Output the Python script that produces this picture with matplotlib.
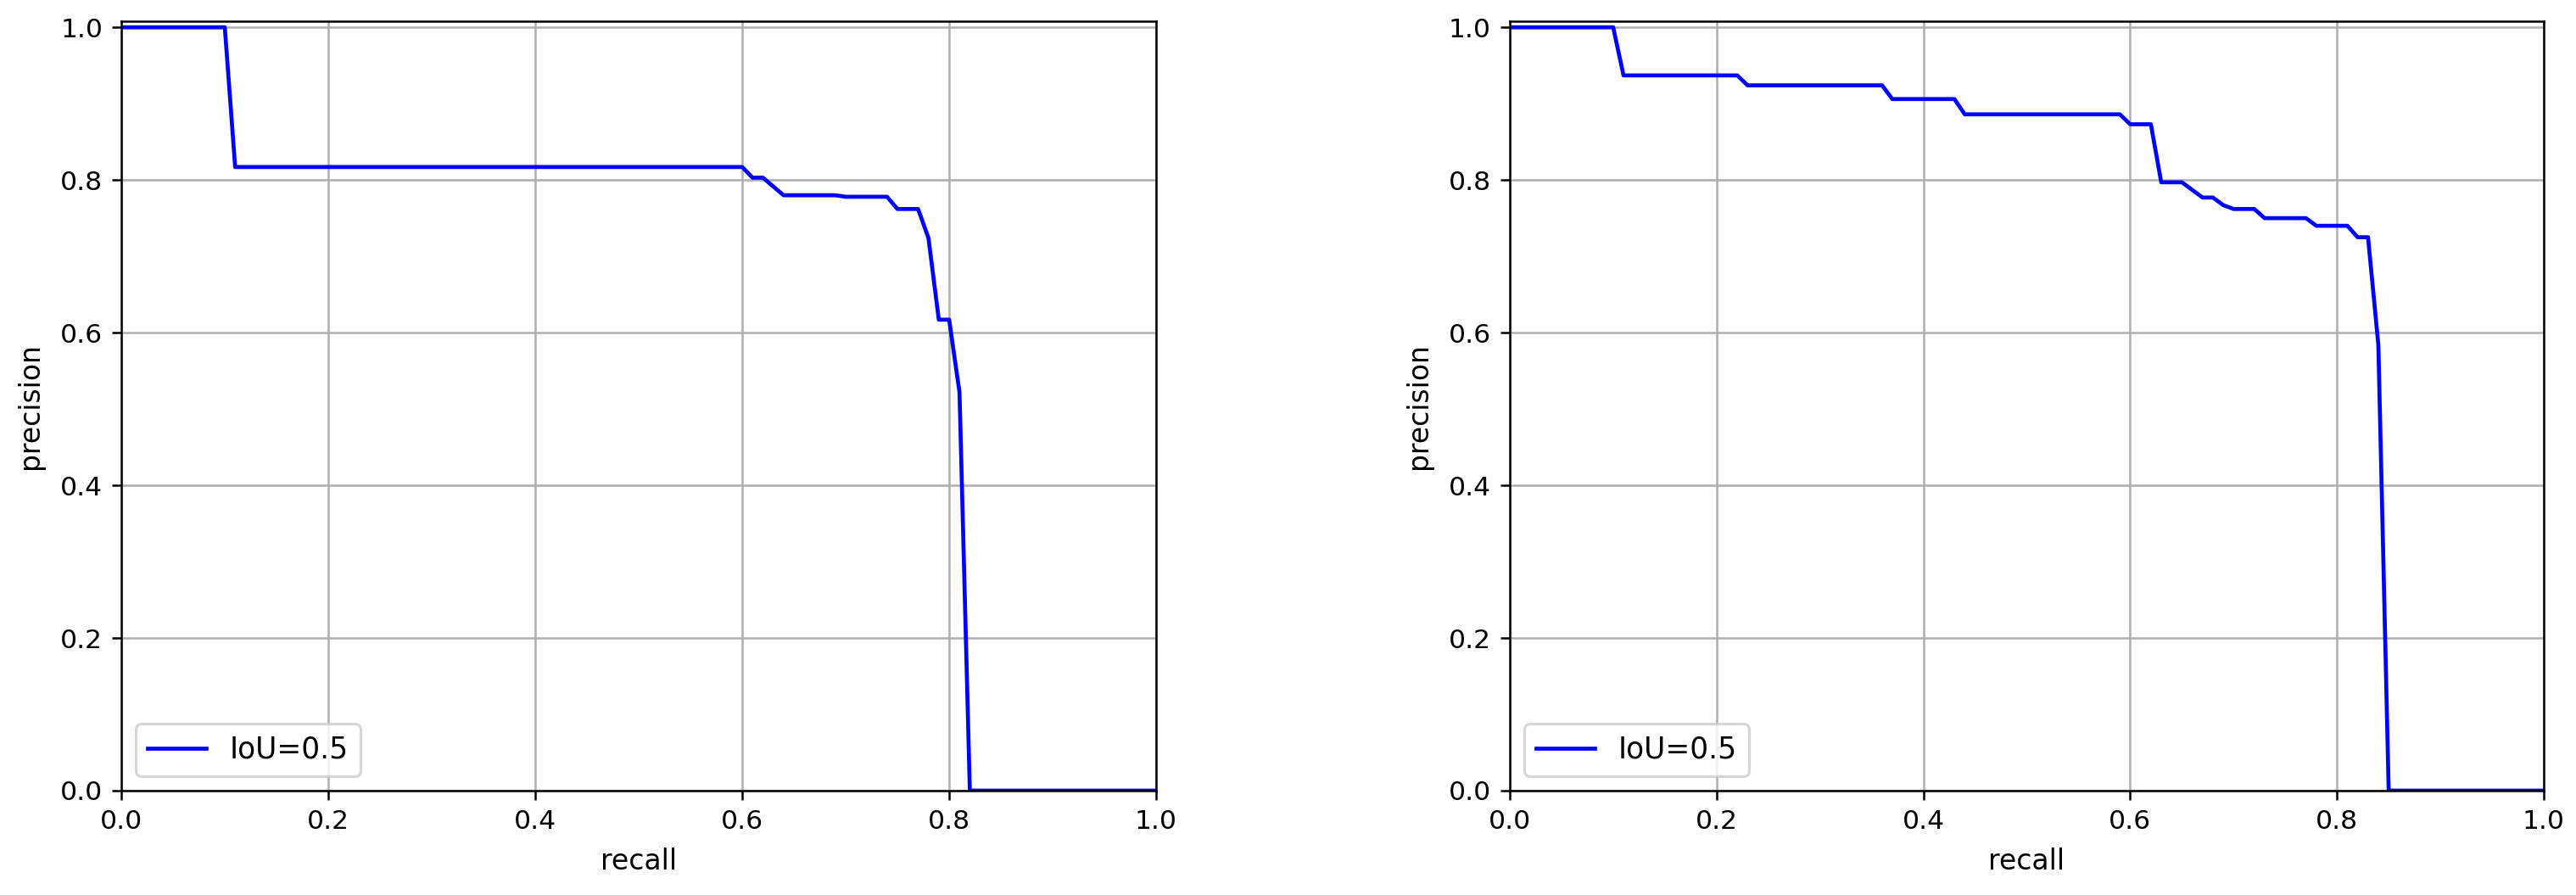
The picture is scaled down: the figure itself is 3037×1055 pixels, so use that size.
import matplotlib
matplotlib.use('Agg')
import matplotlib.pyplot as plt

# precision / recall breakpoints
recall_left = [0.00, 0.10, 0.11, 0.60, 0.61, 0.62, 0.64, 0.69, 0.70, 0.74,
               0.75, 0.77, 0.78, 0.79, 0.80, 0.81, 0.82, 1.00]
precision_left = [1.000, 1.000, 0.817, 0.817, 0.803, 0.803, 0.780, 0.780, 0.778, 0.778,
                  0.762, 0.762, 0.724, 0.617, 0.617, 0.522, 0.000, 0.000]

recall_right = [0.00, 0.10, 0.11, 0.22, 0.23, 0.36, 0.37, 0.43, 0.44, 0.59,
                0.60, 0.62, 0.63, 0.65, 0.66, 0.67, 0.68, 0.69, 0.70, 0.72,
                0.73, 0.77, 0.78, 0.81, 0.82, 0.83, 0.84, 0.85, 1.00]
precision_right = [1.000, 1.000, 0.937, 0.937, 0.924, 0.924, 0.906, 0.906, 0.886, 0.886,
                   0.873, 0.873, 0.797, 0.797, 0.787, 0.777, 0.777, 0.767, 0.762, 0.762,
                   0.750, 0.750, 0.740, 0.740, 0.725, 0.725, 0.584, 0.000, 0.000]

label = 'IoU=0.5'

DPI = 226


def graph_pr(ax, recall, precision):
    ax.plot(recall, precision, c='b', label=label)
    ax.set_xlim(0, 1.0)
    ax.set_ylim(0, 1.008)
    ax.set_xlabel('recall', fontsize=10.5, labelpad=5)
    ax.set_ylabel('precision', fontsize=10.5, labelpad=6)
    ax.grid(True)
    ax.legend(loc='lower left', fontsize=11)


fig = plt.figure(figsize=(3037 / DPI, 1055 / DPI), dpi=DPI)
ax_left = fig.add_axes([0.0471, 0.1166, 0.4017, 0.8597])
ax_right = fig.add_axes([0.5861, 0.1166, 0.4014, 0.8597])

graph_pr(ax_left, recall_left, precision_left)
graph_pr(ax_right, recall_right, precision_right)

fig.savefig('out.png', dpi=DPI)
